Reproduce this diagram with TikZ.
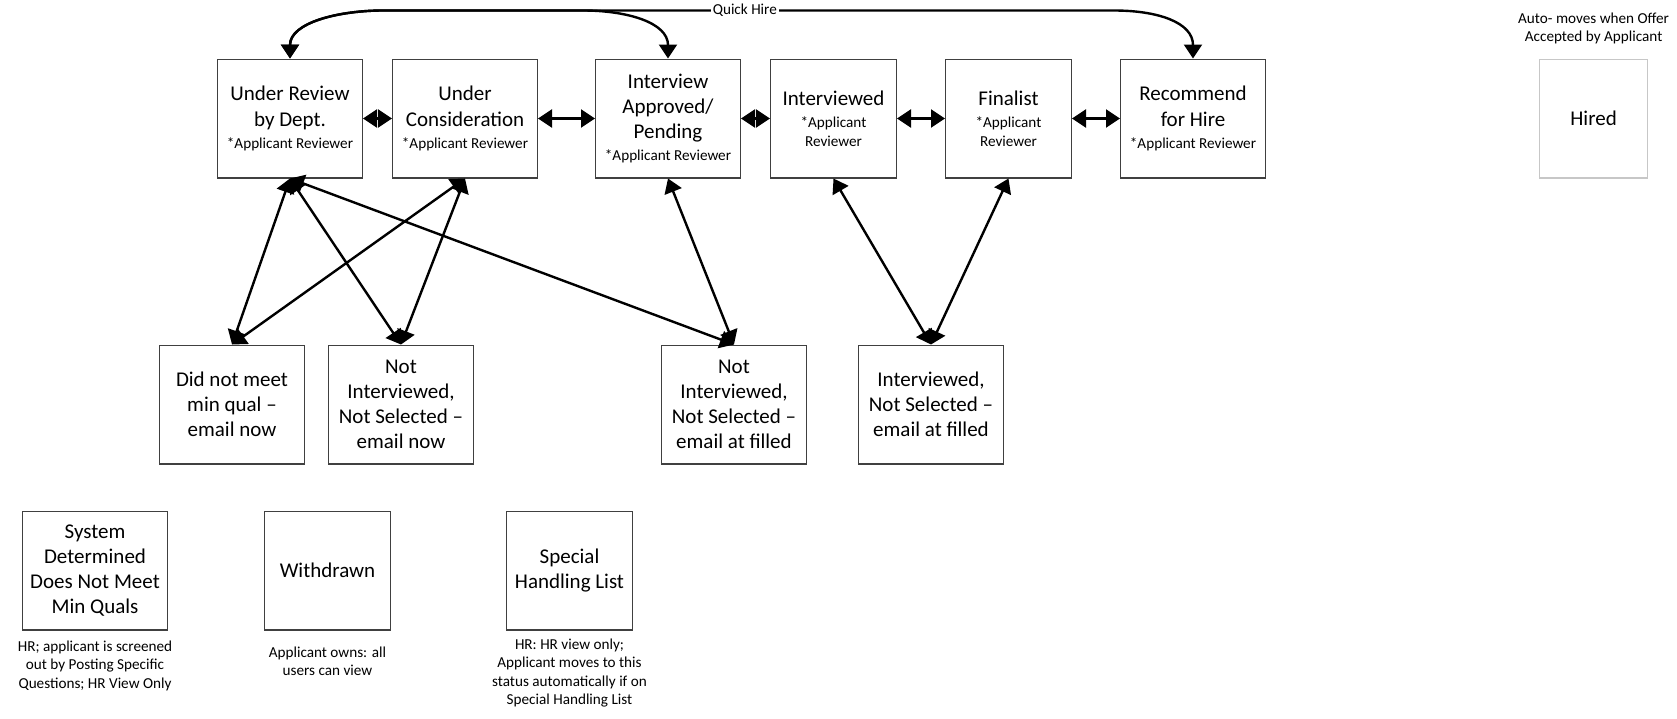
\documentclass[tikz,border=0pt]{standalone}
\usepackage{fontspec}
\setmainfont{Carlito}
\usepackage{tikz}
\usetikzlibrary{positioning,arrows.meta,calc}

\newcommand{\boxfont}{\fontsize{10.5pt}{12.6pt}\selectfont}
\newcommand{\notefont}{\fontsize{7.6pt}{9.2pt}\selectfont}

\begin{document}
\begin{tikzpicture}[
            block/.style={rectangle, draw=black!75, line width=0.6pt, minimum width=72.4pt, minimum height=59.4pt, align=center, inner sep=2pt, font=\boxfont},
            slim/.style={block, minimum width=62.9pt},
            note/.style={align=center, font=\notefont, inner sep=1pt},
            arrow/.style={{Triangle[length=7pt,width=9pt]}-{Triangle[length=7pt,width=9pt]}, line width=1.2pt}
        ]
        \useasboundingbox (0,0) rectangle (838.5pt,-359pt);
        % top row
        \node[block] (review) at (145pt,-59.25pt) {Under Review\\by Dept.\\[-1.5pt]{\notefont *Applicant Reviewer}};
        \node[block, right=14.5pt of review] (consider) {Under\\Consideration\\[-1.5pt]{\notefont *Applicant Reviewer}};
        \node[block, right=28.5pt of consider] (approved) {Interview\\Approved/\\Pending\\[-1.5pt]{\notefont *Applicant Reviewer}};
        \node[slim, right=14.5pt of approved] (interviewed) {Interviewed\\[-1.5pt]{\notefont *Applicant}\\[-3pt]{\notefont Reviewer}};
        \node[slim, right=24pt of interviewed] (finalist) {Finalist\\[-1.5pt]{\notefont *Applicant}\\[-3pt]{\notefont Reviewer}};
        \node[block, right=24pt of finalist] (recommend) {Recommend\\for Hire\\[-1.5pt]{\notefont *Applicant Reviewer}};
        \node[block, draw=black!22, minimum width=54pt, right=136.5pt of recommend] (hired) {Hired};
        \node[note, above=6pt of hired] (hirednote) {Auto- moves when Offer\\Accepted by Applicant};
        % middle row
        \node[block, below=83pt of review, xshift=-29pt] (minqual) {Did not meet\\min qual –\\email now};
        \node[block, right=11.5pt of minqual] (notnow) {Not\\Interviewed,\\Not Selected –\\email now};
        \node[block, below=83pt of approved, xshift=33pt] (notfilled) {Not\\Interviewed,\\Not Selected –\\email at filled};
        \node[block, right=25.5pt of notfilled] (intfilled) {Interviewed,\\Not Selected –\\email at filled};
        % bottom row
        \node[block, below=23pt of minqual, xshift=-68.5pt] (sysmin) {System\\Determined\\Does Not Meet\\Min Quals};
        \node[slim, right=48pt of sysmin] (withdrawn) {Withdrawn};
        \node[slim, right=57.5pt of withdrawn] (special) {Special\\Handling List};
        \node[note, below=4pt of sysmin] (sysnote) {HR; applicant is screened\\out by Posting Specific\\Questions; HR View Only};
        \node[note, below=7pt of withdrawn] (withdrawnnote) {Applicant owns: all\\users can view};
        \node[note, below=3pt of special] (specialnote) {HR: HR view only;\\Applicant moves to this\\status automatically if on\\Special Handling List};
        % quick hire
        \coordinate (qhleft) at ($(review.north)+(46.5pt,24pt)$);
        \coordinate (qhmid) at ($(approved.north)+(-42.5pt,24pt)$);
        \coordinate (qhright) at ($(recommend.north)+(-39.5pt,24pt)$);
        \draw[arrow] (review.north) .. controls +(0,18pt) and +(-22pt,0) .. (qhleft) -- node[note, fill=white, pos=0.495] (quickhire) {Quick Hire} (qhright) .. controls +(22pt,0) and +(0,18pt) .. (recommend.north);
        \draw[arrow] (review.north) .. controls +(0,18pt) and +(-22pt,0) .. (qhleft) -- (qhmid) .. controls +(22pt,0) and +(0,18pt) .. (approved.north);
        % steps along the top
        \draw[arrow] (review) -- (consider);
        \draw[arrow] (consider) -- (approved);
        \draw[arrow] (approved) -- (interviewed);
        \draw[arrow] (interviewed) -- (finalist);
        \draw[arrow] (finalist) -- (recommend);
        % down to the not selected ones
        \draw[arrow] (review.south) -- (minqual.north);
        \draw[arrow] (review.south) -- (notnow.north);
        \draw[arrow] (review.south) -- (notfilled.north);
        \draw[arrow] (consider.south) -- (minqual.north);
        \draw[arrow] (consider.south) -- (notnow.north);
        \draw[arrow] (approved.south) -- (notfilled.north);
        \draw[arrow] (interviewed.south) -- (intfilled.north);
        \draw[arrow] (finalist.south) -- (intfilled.north);
        \end{tikzpicture}
\end{document}
